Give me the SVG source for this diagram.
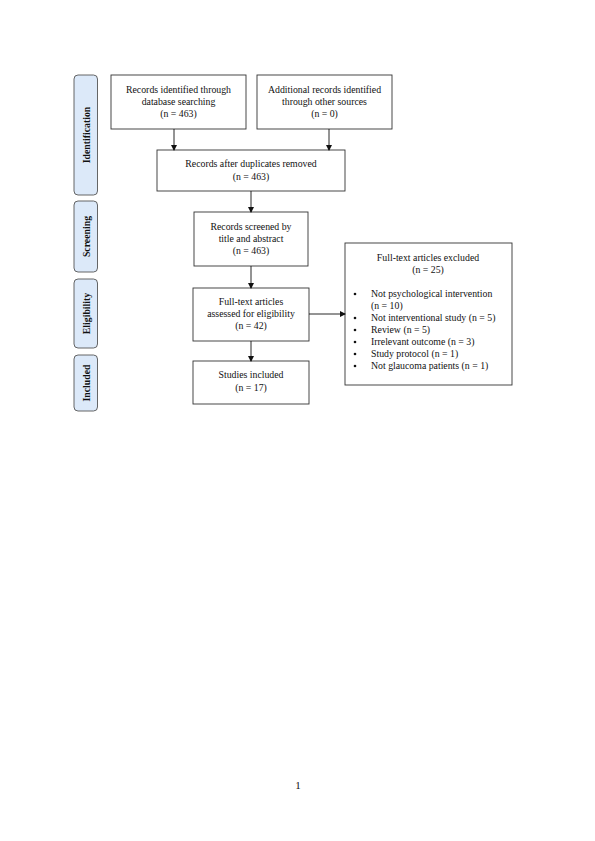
<svg xmlns="http://www.w3.org/2000/svg" width="595" height="841" viewBox="0 0 595 841">
<style>
.box{fill:#fff;stroke:#333;stroke-width:0.9}
.side{fill:#dce9f9;stroke:#555;stroke-width:0.9}
text{font-family:"Liberation Serif","Times New Roman",serif;font-size:9.8px;fill:#111}
.c{text-anchor:middle}
.lbl{font-weight:bold;text-anchor:middle}
.con{stroke:#111;stroke-width:0.9;fill:none}
</style>
<defs>
<marker id="ah" markerWidth="6" markerHeight="6" refX="5" refY="3" orient="auto" markerUnits="userSpaceOnUse">
<path d="M0,0 L6,3 L0,6 Z" fill="#111"/>
</marker>
</defs>
<rect width="595" height="841" fill="#fff"/>
<g id="phase-identification"><rect class="side" x="74" y="75" width="23.5" height="120" rx="4"/><text class="lbl" transform="translate(89.5,135) rotate(-90)">Identification</text></g>
<g id="phase-screening"><rect class="side" x="74" y="201" width="23.5" height="71" rx="4"/><text class="lbl" transform="translate(89.5,236.5) rotate(-90)">Screening</text></g>
<g id="phase-eligibility"><rect class="side" x="74" y="279" width="23.5" height="69" rx="4"/><text class="lbl" transform="translate(89.5,313.5) rotate(-90)">Eligibility</text></g>
<g id="phase-included"><rect class="side" x="74" y="355" width="23.5" height="56" rx="4"/><text class="lbl" transform="translate(89.5,383) rotate(-90)">Included</text></g>

<g id="db-search"><rect class="box" x="111" y="75" width="135" height="54"/>
<text class="c" x="178.5" y="93">Records identified through</text>
<text class="c" x="178.5" y="105">database searching</text>
<text class="c" x="178.5" y="117">(n = 463)</text></g>
<g id="other-sources"><rect class="box" x="257" y="75" width="135" height="54"/>
<text class="c" x="324.5" y="93">Additional records identified</text>
<text class="c" x="324.5" y="105">through other sources</text>
<text class="c" x="324.5" y="117">(n = 0)</text></g>
<g id="after-dup"><rect class="box" x="157" y="150" width="188" height="41"/>
<text class="c" x="251" y="167">Records after duplicates removed</text>
<text class="c" x="251" y="180">(n = 463)</text></g>
<g id="screened"><rect class="box" x="194" y="212" width="114" height="54"/>
<text class="c" x="251" y="230">Records screened by</text>
<text class="c" x="251" y="242">title and abstract</text>
<text class="c" x="251" y="254">(n = 463)</text></g>
<g id="fulltext"><rect class="box" x="193" y="288" width="116" height="53"/>
<text class="c" x="251" y="305">Full-text articles</text>
<text class="c" x="251" y="317">assessed for eligibility</text>
<text class="c" x="251" y="329">(n = 42)</text></g>
<g id="included"><rect class="box" x="193" y="361" width="116" height="43"/>
<text class="c" x="251" y="378">Studies included</text>
<text class="c" x="251" y="391">(n = 17)</text></g>
<g id="excluded"><rect class="box" x="345" y="243" width="167" height="142"/>
<text class="c" x="428" y="261">Full-text articles excluded</text>
<text class="c" x="428" y="273">(n = 25)</text>
<g fill="#111"><circle cx="355" cy="294" r="1.3"/><circle cx="355" cy="318" r="1.3"/><circle cx="355" cy="330" r="1.3"/><circle cx="355" cy="342" r="1.3"/><circle cx="355" cy="354" r="1.3"/><circle cx="355" cy="366" r="1.3"/></g>
<text x="371" y="296.5">Not psychological intervention</text>
<text x="371" y="308.5">(n = 10)</text>
<text x="371" y="320.5">Not interventional study (n = 5)</text>
<text x="371" y="332.5">Review (n = 5)</text>
<text x="371" y="344.5">Irrelevant outcome (n = 3)</text>
<text x="371" y="356.5">Study protocol (n = 1)</text>
<text x="371" y="368.5">Not glaucoma patients (n = 1)</text></g>

<g id="connectors">
<line class="con" x1="174" y1="129" x2="174" y2="150" marker-end="url(#ah)"/>
<line class="con" x1="329" y1="129" x2="329" y2="150" marker-end="url(#ah)"/>
<line class="con" x1="251" y1="191" x2="251" y2="212" marker-end="url(#ah)"/>
<line class="con" x1="251" y1="266" x2="251" y2="288" marker-end="url(#ah)"/>
<line class="con" x1="251" y1="341" x2="251" y2="361" marker-end="url(#ah)"/>
<line class="con" x1="309" y1="314" x2="345" y2="314" marker-end="url(#ah)"/>
</g>
<text class="c" x="298" y="789" style="font-size:11px">1</text>
</svg>
